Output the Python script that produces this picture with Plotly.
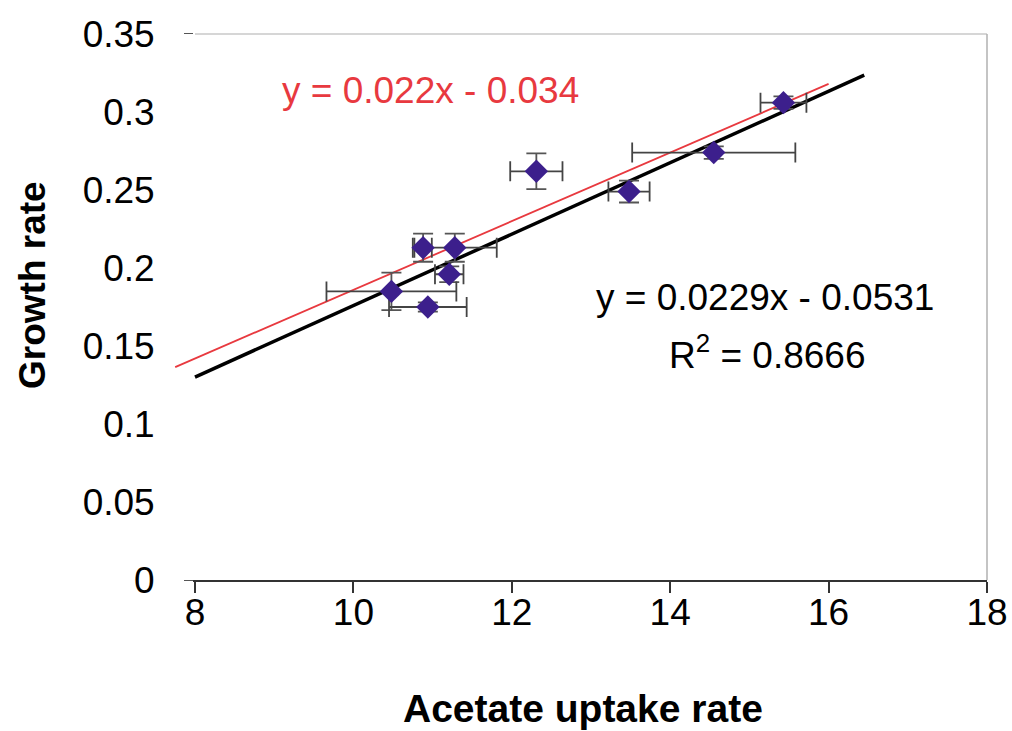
import plotly.graph_objects as go

# ---- data ----
uptake = [15.43, 14.55, 13.48, 12.31, 10.88, 11.28, 11.21, 10.48, 10.94]
growth = [0.306, 0.274, 0.249, 0.262, 0.213, 0.213, 0.196, 0.185, 0.175]
uptake_err = [0.29, 1.03, 0.26, 0.33, 0.11, 0.53, 0.18, 0.82, 0.49]
growth_err = [0.004, 0.004, 0.007, 0.0115, 0.009, 0.009, 0.005, 0.012, 0.003]

fit_slope, fit_intercept = 0.0229, -0.0531
fit_x = [8.0, 16.45]
ref_slope, ref_intercept = 0.022, -0.034
ref_x = [7.75, 16.0]

x_ticks = [8, 10, 12, 14, 16, 18]
y_ticks = [0, 0.05, 0.1, 0.15, 0.2, 0.25, 0.3, 0.35]
y_tick_text = ["0", "0.05", "0.1", "0.15", "0.2", "0.25", "0.3", "0.35"]

eq_fit = "y = 0.0229x - 0.0531"
eq_r2 = "R<sup>2</sup> = 0.8666"
eq_ref = "y = 0.022x - 0.034"

# ---- layout geometry ----
W, H = 1012, 731
ML, MR, MT, MB = 160, 25, 34, 151
AX_LEFT = 195                      # pixel of x=8
plot_w = W - ML - MR
plot_h = H - MT - MB
dom0 = (AX_LEFT - ML) / plot_w
px_per_unit = (W - MR - AX_LEFT) / (x_ticks[-1] - x_ticks[0])
x2_min = x_ticks[0] - (AX_LEFT - ML) / px_per_unit

FONT = "Liberation Sans, Arial, sans-serif"
FS = 37

fig = go.Figure()

# placeholder trace so the visible axes subplot is drawn
fig.add_trace(go.Scatter(x=[None], y=[None], xaxis="x", yaxis="y",
                         mode="markers", showlegend=False, hoverinfo="skip"))

# red reference line (extends past the y axis as in the reference)
fig.add_trace(go.Scatter(
    x=ref_x, y=[ref_slope * v + ref_intercept for v in ref_x],
    mode="lines", line=dict(color="#e8393f", width=1.8),
    xaxis="x2", yaxis="y2", showlegend=False, hoverinfo="skip"))

# black fitted trendline
fig.add_trace(go.Scatter(
    x=fit_x, y=[fit_slope * v + fit_intercept for v in fit_x],
    mode="lines", line=dict(color="#000000", width=3.5),
    xaxis="x2", yaxis="y2", showlegend=False, hoverinfo="skip"))

# data points with error bars
fig.add_trace(go.Scatter(
    x=uptake, y=growth, mode="markers",
    marker=dict(symbol="diamond", size=18, color="#3c1f8c",
                line=dict(width=0)),
    error_x=dict(type="data", array=uptake_err, visible=True,
                 color="#444444", thickness=1.8, width=10),
    error_y=dict(type="data", array=growth_err, visible=True,
                 color="#555555", thickness=1.8, width=10),
    xaxis="x2", yaxis="y2", showlegend=False))

fig.update_layout(
    width=W, height=H,
    margin=dict(l=ML, r=MR, t=MT, b=MB, autoexpand=False),
    paper_bgcolor="white", plot_bgcolor="white",
    font=dict(family=FONT, color="#000000"),
    xaxis=dict(domain=[dom0, 1], range=[x_ticks[0], x_ticks[-1]],
               tickvals=x_ticks, ticks="outside", ticklen=11, tickwidth=1.5,
               tickcolor="#333333", showline=True, linecolor="#333333",
               linewidth=1.8, showgrid=False, zeroline=False,
               tickfont=dict(size=FS, family=FONT), anchor="y",
               ticklabelstandoff=-12, automargin=False),
    yaxis=dict(domain=[0, 1], range=[y_ticks[0], y_ticks[-1]],
               tickvals=y_ticks, ticktext=y_tick_text, ticks="outside",
               ticklen=9, tickwidth=1.5, tickcolor="#555555",
               showline=True, linecolor="#888888", linewidth=1.8,
               showgrid=False, zeroline=False,
               tickfont=dict(size=FS, family=FONT), anchor="x",
               ticklabelstandoff=22, automargin=False),
    xaxis2=dict(domain=[0, 1], range=[x2_min, x_ticks[-1]], visible=False,
                anchor="y2"),
    yaxis2=dict(domain=[0, 1], range=[y_ticks[0], y_ticks[-1]],
                visible=False, anchor="x2"),
    shapes=[
        dict(type="line", xref="x domain", yref="y domain",
             x0=0, x1=1, y0=1, y1=1, line=dict(color="#c8c8c8", width=1.5)),
        dict(type="line", xref="x domain", yref="y domain",
             x0=1, x1=1, y0=0, y1=1, line=dict(color="#b0b0b0", width=1.5)),
    ],
    annotations=[
        dict(text=eq_ref, xref="x", yref="y", x=10.97, y=0.314,
             showarrow=False, font=dict(size=FS, color="#e8393f", family=FONT)),
        dict(text=eq_fit, xref="x", yref="y", x=15.2, y=0.181,
             showarrow=False, font=dict(size=FS, family=FONT)),
        dict(text=eq_r2, xref="x", yref="y", x=15.22, y=0.146,
             showarrow=False, font=dict(size=FS, family=FONT)),
        dict(text="<b>Acetate uptake rate</b>", xref="paper", yref="paper",
             x=(583 - ML) / plot_w, y=(H - MB - 708) / plot_h,
             xanchor="center", yanchor="middle", showarrow=False,
             font=dict(size=39, family=FONT)),
        dict(text="<b>Growth rate</b>", xref="paper", yref="paper",
             x=(32 - ML) / plot_w, y=(H - MB - 285) / plot_h,
             xanchor="center", yanchor="middle", textangle=-90,
             showarrow=False, font=dict(size=FS, family=FONT)),
    ],
)

fig.write_html("out.html",
               config={"displayModeBar": False},
               post_script="document.body.style.margin='0';"
                           "document.body.style.overflow='hidden';")
